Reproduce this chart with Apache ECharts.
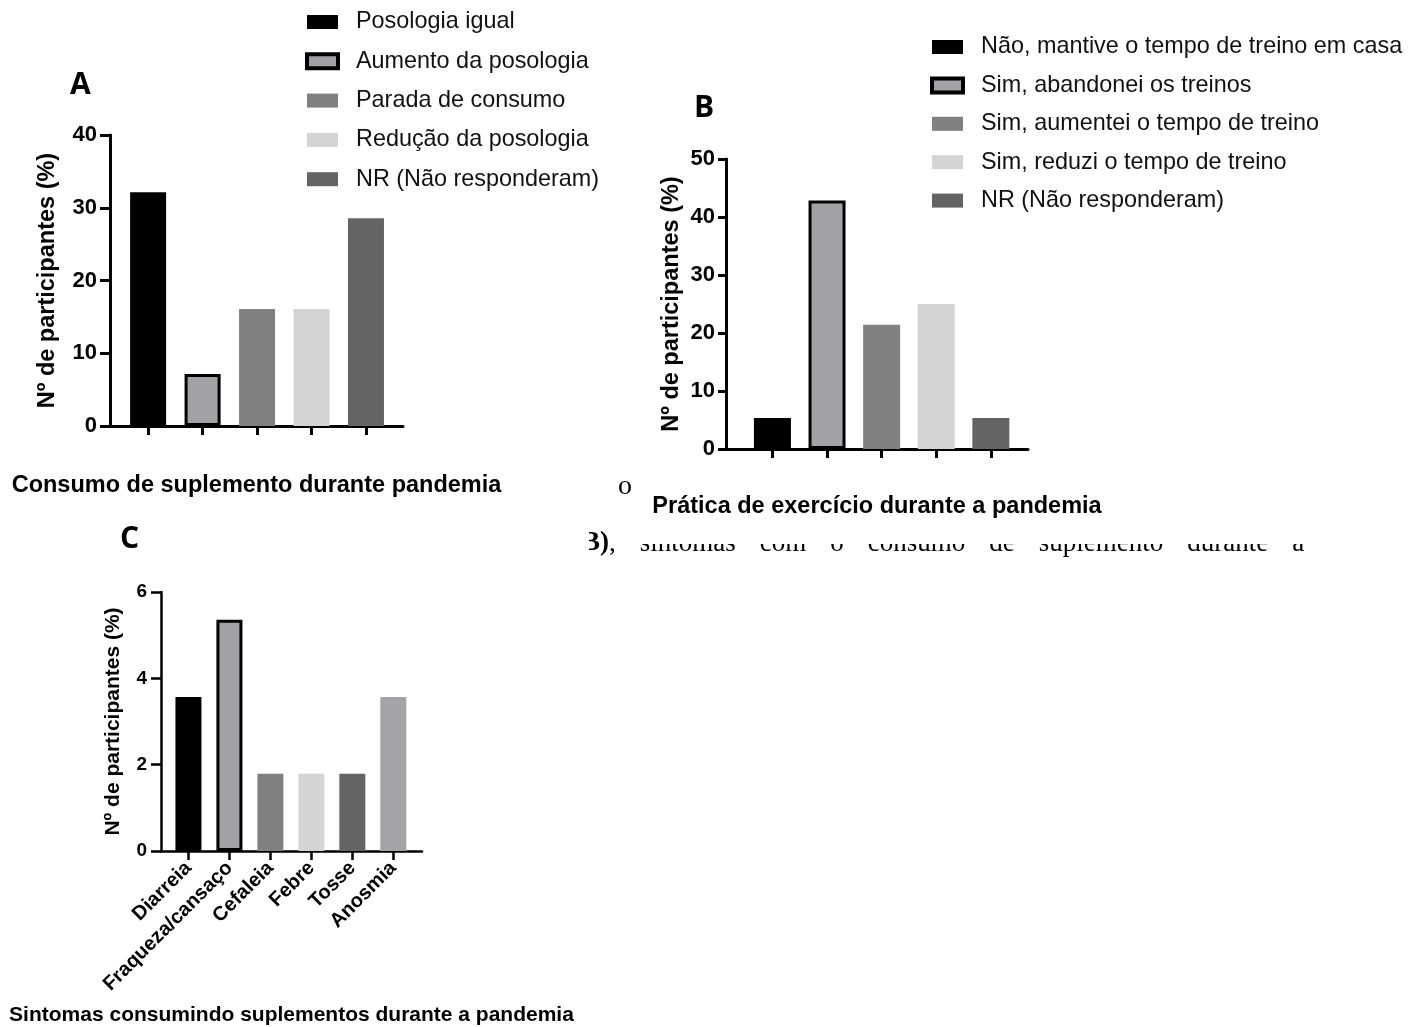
<!DOCTYPE html>
<html>
<head>
<meta charset="utf-8">
<script src="https://cdn.jsdelivr.net/npm/echarts@6/dist/echarts.min.js"></script>
<style>
html,body{margin:0;padding:0;background:#fff;}
#c{width:1422px;height:1027px;}
</style>
</head>
<body>
<div id="c"></div>
<script>
// ---------- DATA ----------
const catsA = ['Posologia igual', 'Aumento da posologia', 'Parada de consumo', 'Redução da posologia', 'NR (Não responderam)'];
const valsA = [32.14, 7.14, 16.07, 16.07, 28.57];
const titleA = 'Consumo de suplemento durante pandemia';

const catsB = ['Não, mantive o tempo de treino em casa', 'Sim, abandonei os treinos', 'Sim, aumentei o tempo de treino', 'Sim, reduzi o tempo de treino', 'NR (Não responderam)'];
const valsB = [5.36, 42.86, 21.43, 25.00, 5.36];
const titleB = 'Prática de exercício durante a pandemia';

const catsC = ['Diarreia', 'Fraqueza/cansaço', 'Cefaleia', 'Febre', 'Tosse', 'Anosmia'];
const valsC = [3.57, 5.36, 1.79, 1.79, 1.79, 3.57];
const titleC = 'Sintomas consumindo suplementos durante a pandemia';

const yName = 'Nº de participantes (%)';
const yMaxA = 40, yMaxB = 50, yMaxC = 6;
const yStepA = 10, yStepB = 10, yStepC = 2;

// ---------- STYLE ----------
const SANS = 'Liberation Sans';
const SERIF = 'Liberation Serif';
const fills = ['#000000', '#a2a2a6', '#808080', '#d4d4d4', '#646464', '#a4a4a8'];
const bordered = [false, true, false, false, false, false];

function idx(n) { return Array.from({length: n}, (_, i) => i); }

function xAx(grid, min, max, n, name, nameGap, nameSize, labels, lw) {
  return {
    type: 'value', gridIndex: grid, min: min, max: max,
    axisLine: {show: true, onZero: false, lineStyle: {color: '#000', width: lw}},
    axisTick: {show: true, customValues: idx(n), length: 9, lineStyle: {color: '#000', width: lw}},
    axisLabel: labels ? {
      show: true, customValues: idx(n), rotate: 45, margin: 14,
      formatter: v => labels[Math.round(v)],
      color: '#000', fontFamily: SANS, fontWeight: 'bold', fontSize: 20
    } : {show: false},
    splitLine: {show: false},
    name: name, nameLocation: 'middle', nameGap: nameGap,
    nameTextStyle: {color: '#000', fontFamily: SANS, fontWeight: 'bold', fontSize: nameSize}
  };
}
function yAx(grid, max, step, labSize, margin, tickLen, nameSize, nameGap, lw) {
  return {
    type: 'value', gridIndex: grid, min: 0, max: max, interval: step,
    axisLine: {show: true, onZero: false, lineStyle: {color: '#000', width: lw}},
    axisTick: {show: true, length: tickLen, lineStyle: {color: '#000', width: lw}},
    axisLabel: {color: '#000', fontFamily: SANS, fontWeight: 'bold', fontSize: labSize, margin: margin},
    splitLine: {show: false},
    name: yName, nameLocation: 'middle', nameRotate: 90, nameGap: nameGap,
    nameTextStyle: {color: '#000', fontFamily: SANS, fontWeight: 'bold', fontSize: nameSize}
  };
}

function panelSeries(cats, vals, axisIdx, bw) {
  return cats.map((c, i) => ({
    type: 'bar', name: c, xAxisIndex: axisIdx, yAxisIndex: axisIdx,
    barWidth: bw, barGap: '-100%',
    data: [[i, vals[i]]],
    itemStyle: bordered[i] ? {color: fills[i], borderColor: '#000', borderWidth: 3}
                           : {color: fills[i], borderWidth: 0},
    emphasis: {disabled: true}
  }));
}

function legendFor(cats, left, top, gap) {
  return {
    orient: 'vertical', left: left, top: top, padding: 0,
    itemWidth: 31, itemHeight: 14, itemGap: gap, icon: 'rect',
    selectedMode: false,
    data: cats.map((c, i) => bordered[i]
      ? {name: c, itemStyle: {color: fills[i], borderColor: '#000', borderWidth: 4}}
      : {name: c, itemStyle: {color: fills[i], borderWidth: 0}}),
    textStyle: {color: '#111', fontFamily: SANS, fontSize: 23.4, lineHeight: 24, padding: [0, 0, 0, 13]}
  };
}

const seriesC = {
  type: 'bar', name: 'C', xAxisIndex: 2, yAxisIndex: 2, barWidth: 26,
  data: valsC.map((v, i) => ({
    value: [i, v],
    itemStyle: bordered[i] ? {color: fills[i], borderColor: '#000', borderWidth: 3}
                           : {color: fills[i], borderWidth: 0}
  })),
  emphasis: {disabled: true}
};

// justified body text fragments (page text behind the figure)
const bodyWords = ['sintomas', 'com', 'o', 'consumo', 'de', 'suplemento', 'durante', 'a'];

const option = {
  animation: false,
  backgroundColor: '#fff',
  grid: [
    {left: 110, top: 135, width: 293, height: 291},
    {left: 726, top: 159, width: 302, height: 290},
    {left: 161, top: 592, width: 261, height: 259}
  ],
  xAxis: [
    xAx(0, -0.7, 4.68, 5, titleA, 48, 23.5, null, 3),
    xAx(1, -0.85, 4.68, 5, titleB, 46, 23.5, null, 3),
    xAx(2, -0.67, 5.7, 6, titleC, 154, 21, catsC, 2.5)
  ],
  yAxis: [
    yAx(0, yMaxA, yStepA, 22, 13, 10, 23.5, 50, 3),
    yAx(1, yMaxB, yStepB, 22, 11, 8, 23.5, 42, 3),
    yAx(2, yMaxC, yStepC, 19, 14, 10, 21, 37, 2.5)
  ],
  legend: [
    legendFor(catsA, 305, 10, 15.3),
    legendFor(catsB, 930, 35, 14.4)
  ],
  series: [].concat(panelSeries(catsA, valsA, 0, 36), panelSeries(catsB, valsB, 1, 37), [seriesC]),
  graphic: [
    {type: 'text', left: 70, top: 70, style: {text: 'A', fontFamily: 'Open Sans', fontWeight: 'bold', fontSize: 30, fill: '#000'}},
    {type: 'text', left: 694, top: 93, style: {text: 'B', fontFamily: 'Open Sans', fontWeight: 'bold', fontSize: 30, fill: '#000'}},
    {type: 'text', left: 120, top: 524, style: {text: 'C', fontFamily: 'Open Sans', fontWeight: 'bold', fontSize: 30, fill: '#000'}},
    {type: 'text', x: 618, y: 501, z: 5, style: {text: 'o', fontFamily: SERIF, fontSize: 28, fill: '#000', textVerticalAlign: 'bottom'}},
    {type: 'text', x: 582, y: 530, z: 5, style: {
      text: '{b|B)}{t|,}{sp| }' + bodyWords.map(w => '{t|' + w + '}').join('{sp| }'),
      textVerticalAlign: 'top',
      rich: {
        b: {fontFamily: SERIF, fontWeight: 'bold', fontSize: 27, fill: '#000'},
        t: {fontFamily: SERIF, fontSize: 27, fill: '#000'},
        sp: {fontFamily: SERIF, fontSize: 27, width: 24}
      }
    }},
    {type: 'rect', z: 10, shape: {x: 555, y: 520, width: 34, height: 45}, style: {fill: '#fff'}},
    {type: 'rect', z: 10, shape: {x: 618, y: 519, width: 720, height: 25}, style: {fill: '#fff'}}
  ]
};

const chart = echarts.init(document.getElementById('c'), null, {renderer: 'canvas'});
chart.setOption(option);
</script>
</body>
</html>
